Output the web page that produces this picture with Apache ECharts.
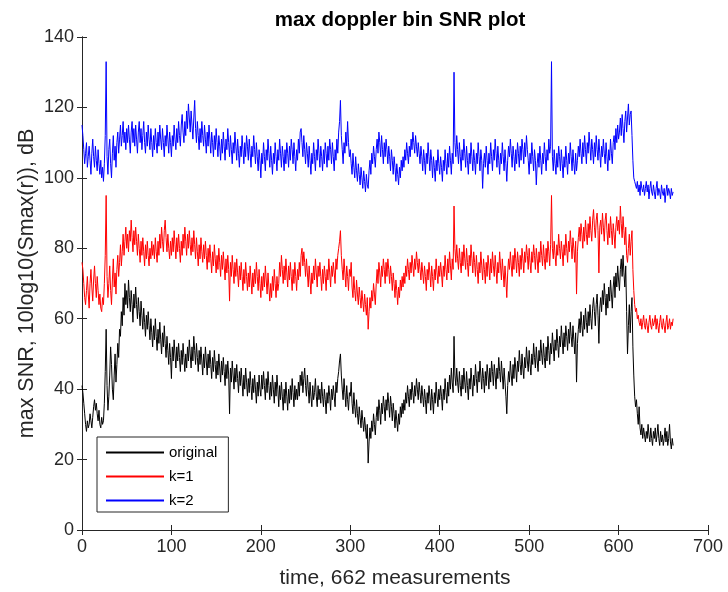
<!DOCTYPE html>
<html>
<head>
<meta charset="utf-8">
<title>max doppler bin SNR plot</title>
<script src="https://cdn.jsdelivr.net/npm/echarts@6/dist/echarts.min.js"></script>
<style>
  html, body { margin: 0; padding: 0; background: #fff; }
  #chart { width: 728px; height: 592px; }
</style>
</head>
<body>
<div id="chart"></div>
<script>
// Max SNR per measurement (dB), one value per measurement index 0..661
const original = [
41,39,36,33,30,28,31,29,30,33,31,29,32,35,37,34,36,33,31,34,
30,29,32,30,31,36,45,57,41,34,38,44,52,47,40,37,44,50,42,47,
53,49,57,55,62,58,66,61,70,64,68,63,71,66,62,68,64,59,67,63,
69,64,60,66,62,58,65,61,57,63,59,55,61,57,62,58,54,60,56,52,
58,54,60,55,51,57,53,59,54,50,56,52,58,53,49,55,51,47,53,49,
43,52,48,54,50,46,52,48,53,49,45,51,47,53,49,45,50,46,52,48,
54,50,46,52,48,55,51,47,53,49,45,51,47,52,48,44,50,46,52,48,
44,50,46,51,47,43,49,45,51,47,43,48,44,50,46,42,48,44,49,45,
41,47,43,48,44,33,46,42,48,44,40,46,42,47,43,39,45,41,46,42,
38,44,40,46,42,38,43,39,45,41,37,43,39,44,40,36,42,38,44,40,
38,44,40,45,41,37,43,39,45,41,37,42,38,44,40,36,42,38,44,40,
35,41,37,42,38,34,40,36,42,38,34,40,36,41,37,43,39,35,41,37,
40,37,42,38,44,41,45,39,43,46,41,38,44,40,36,42,38,35,41,37,
39,43,38,35,41,37,40,36,42,38,35,40,37,33,39,36,41,38,34,40,
37,41,38,35,42,39,43,45,48,50,44,40,37,43,39,35,41,37,34,39,
38,42,36,33,39,35,32,37,33,30,35,32,29,34,31,28,32,29,26,30,
19,25,29,26,31,28,33,30,27,32,35,31,37,34,30,36,33,38,35,31,
37,34,39,36,32,38,35,31,36,33,29,34,31,28,33,30,35,32,36,33,
37,34,39,36,41,38,35,40,37,42,39,36,41,38,43,40,37,42,39,36,
41,38,35,40,37,33,39,36,41,38,34,40,37,33,39,36,42,38,35,40,
37,41,38,34,40,37,43,39,36,42,38,44,40,46,42,39,55,44,41,46,
42,39,45,41,38,44,40,46,42,39,45,41,37,43,40,46,42,38,44,41,
47,43,39,45,42,48,44,40,46,43,39,45,41,47,44,40,46,42,48,45,
41,47,44,40,46,43,49,45,42,48,44,40,46,42,38,33,41,45,42,48,
44,41,47,43,49,46,42,48,45,51,47,44,50,46,43,49,46,52,48,45,
51,47,44,50,47,53,49,46,52,48,45,51,48,54,50,47,53,49,46,52,
48,55,51,47,53,50,56,52,48,54,51,57,53,49,55,52,58,54,50,56,
52,58,55,51,57,53,59,55,52,58,54,50,56,42,53,57,60,56,62,58,
55,61,57,63,59,56,62,58,64,60,57,63,66,62,58,64,67,61,53,63,
66,62,68,64,70,66,61,67,63,69,65,71,67,63,69,72,66,73,69,75,
71,68,74,77,72,78,73,69,75,62,50,58,64,56,62,66,52,44,38,35,
37,33,30,35,29,27,30,26,29,27,25,28,26,30,27,25,29,26,24,28,
26,29,25,27,30,26,24,28,25,27,24,26,29,25,28,24,26,30,25,23,26,24
];

const k1 = [
76,74,70,66,64,68,72,67,63,70,74,69,65,71,75,70,66,72,68,64,
67,63,62,66,64,70,78,95,72,66,70,75,68,64,71,77,69,73,67,74,
78,72,76,81,75,79,84,78,82,86,80,84,79,85,82,88,83,79,85,81,
86,82,78,84,80,76,82,78,83,79,75,81,77,82,78,75,80,77,82,78,
81,77,83,79,76,82,78,84,80,86,82,79,85,88,83,79,84,80,77,82,
78,83,79,85,81,77,83,79,84,80,76,82,78,84,80,86,82,78,84,80,
85,81,78,83,79,85,81,77,83,79,75,81,77,83,79,76,81,77,82,78,
74,80,76,81,77,73,79,75,81,77,73,78,74,80,76,72,78,74,79,75,
71,77,73,78,74,65,76,72,78,74,70,76,72,77,73,69,75,71,76,72,
68,74,70,76,72,68,73,69,75,71,67,73,69,74,70,76,72,68,74,70,
66,72,68,73,69,75,71,67,73,69,65,70,66,72,68,74,70,66,72,68,
70,76,72,78,74,70,75,71,77,73,69,75,71,76,72,68,74,70,76,72,
68,74,71,76,72,78,80,75,79,76,72,77,73,69,75,71,67,73,70,75,
71,77,73,69,75,72,76,72,68,74,70,75,72,68,74,71,77,73,69,75,
72,76,73,70,77,74,78,80,82,85,78,74,71,77,73,69,75,72,68,74,
72,76,69,66,72,68,65,71,67,64,69,66,63,68,65,62,67,64,61,66,
57,62,66,63,68,65,70,67,64,70,74,70,76,73,69,75,72,77,74,70,
76,72,77,74,70,75,72,68,73,70,66,71,68,64,69,66,71,68,72,69,
73,70,75,72,77,74,71,76,73,78,75,72,77,74,79,76,73,77,74,71,
76,73,70,75,72,68,74,71,76,73,69,75,72,68,74,71,77,73,70,75,
72,76,73,69,75,72,78,74,71,77,73,79,75,71,77,74,92,80,76,81,
77,74,80,76,73,79,75,81,77,74,80,76,72,78,75,81,77,73,79,76,
72,78,74,70,76,73,79,75,71,77,74,70,76,72,78,75,71,77,73,79,
75,72,78,74,70,76,73,79,75,71,77,73,69,75,71,66,73,77,74,79,
75,72,78,74,80,77,73,79,76,72,78,74,80,77,73,79,76,81,78,74,
80,76,73,79,76,81,78,74,80,77,73,79,76,82,78,75,81,77,74,80,
76,82,79,75,81,95,80,77,82,78,75,81,78,84,80,77,82,79,75,81,
78,84,80,76,82,79,85,81,77,83,80,76,82,67,79,83,86,82,87,84,
80,86,82,88,84,81,87,83,89,85,82,88,91,86,83,88,90,85,73,86,
88,84,90,86,82,88,90,85,81,87,83,89,85,81,87,84,80,86,89,85,
88,84,92,87,83,89,85,81,86,78,76,80,84,78,82,85,74,68,64,62,
63,60,61,59,58,60,57,59,61,58,57,60,58,56,59,61,58,57,60,58,
59,61,57,60,58,56,59,61,58,57,60,58,56,59,61,57,58,60,57,59,58,60
];

const k2 = [
115,112,108,104,107,110,103,106,109,105,101,107,111,106,103,109,105,102,108,104,
101,105,100,103,99,104,112,133,106,101,108,111,104,100,107,112,105,109,103,110,
113,107,111,115,109,112,116,110,113,108,114,110,115,111,107,113,116,110,114,109,
115,111,107,113,116,110,114,108,112,116,110,107,113,109,115,111,108,114,110,106,
112,108,114,110,107,113,109,115,111,108,114,110,106,112,109,115,111,107,113,110,
106,112,109,115,111,108,114,110,116,112,109,115,118,113,110,116,112,119,114,121,
117,113,119,115,111,117,122,114,110,116,112,108,114,110,116,112,109,115,111,107,
113,109,115,111,107,113,110,106,112,108,114,110,106,112,109,105,111,107,113,109,
105,111,108,114,110,106,112,108,104,110,107,113,109,105,111,107,103,109,106,112,
108,104,110,106,112,109,105,111,107,103,109,106,112,108,104,110,106,102,108,105,
100,107,104,110,106,102,108,105,111,107,103,109,105,101,107,104,110,106,102,108,
105,111,107,103,109,106,102,108,104,110,107,103,109,105,111,108,104,110,106,102,
108,105,111,107,113,114,110,106,112,108,104,110,107,103,109,105,101,107,104,110,
106,102,108,105,111,107,103,109,106,102,108,104,110,107,103,109,105,111,108,104,
110,106,102,108,105,111,107,113,116,122,112,108,104,110,107,113,109,116,110,106,
108,104,101,107,103,100,106,102,99,104,101,98,103,100,97,102,99,96,101,98,
97,102,105,101,107,104,109,106,103,108,111,107,113,110,106,112,108,104,110,106,
111,108,104,109,106,102,108,105,101,106,103,99,104,101,98,103,100,105,102,106,
103,108,105,110,107,104,109,106,111,108,113,110,107,112,109,106,110,107,104,109,
106,102,108,105,101,107,104,110,106,102,108,105,100,106,103,99,105,102,108,104,
101,106,103,99,105,102,108,104,101,107,103,109,105,101,107,104,130,110,106,112,
108,104,110,106,102,108,105,111,107,103,109,105,101,107,104,110,106,102,108,105,
101,107,104,110,106,102,108,105,97,104,107,103,109,105,101,107,104,110,106,102,
108,105,111,107,103,109,105,101,107,104,110,106,102,108,104,99,105,109,106,111,
107,103,109,106,102,108,104,110,107,103,109,105,111,108,104,110,106,112,108,105,
101,107,104,110,106,102,108,105,98,104,107,103,109,105,101,107,104,110,106,102,
108,105,111,107,109,133,106,102,108,104,101,107,103,109,106,102,108,104,100,106,
103,109,105,101,107,104,110,106,102,108,104,101,107,102,105,109,106,111,107,104,
110,106,112,108,104,110,107,113,109,105,111,108,104,110,106,112,108,105,111,107,
103,109,106,111,107,104,110,106,102,108,105,111,107,104,110,112,108,114,110,115,
111,113,117,112,118,114,110,116,119,113,117,121,115,118,119,112,105,100,99,98,
97,99,96,98,95,99,97,96,98,95,97,99,96,98,94,97,99,96,95,98,
96,94,97,99,95,97,96,94,98,96,95,97,93,96,98,95,97,96,94,97,95,96
];

const seriesNames = ['original', 'k=1', 'k=2'];
const seriesColors = ['#000000', '#ff0000', '#0000ff'];
const xTicks = { min: 0, max: 700, interval: 100 };
const yTicks = { min: 0, max: 140, interval: 20 };

const axisColor = '#262626';
const fontFamily = '"Liberation Sans", Arial, Helvetica, sans-serif';

function toPoints(values) {
  return values.map((v, i) => [i, v]);
}

const chart = echarts.init(document.getElementById('chart'), null, { renderer: 'canvas' });

const tickStyle = { inside: true, length: 5, lineStyle: { color: axisColor, width: 1 } };
const lineStyle = { lineStyle: { color: axisColor, width: 1 } };

chart.setOption({
  animation: false,
  backgroundColor: '#ffffff',
  textStyle: { fontFamily: fontFamily },
  title: {
    text: 'max doppler bin SNR plot',
    left: 395,
    textAlign: 'center',
    top: 5,
    textStyle: { fontSize: 20.5, fontWeight: 'bold', color: '#000', fontFamily: fontFamily }
  },
  // fixed plot box; axis names sit outside it without shrinking the grid
  grid: { left: 82, right: 20, top: 37, bottom: 62, containLabel: false, outerBoundsMode: 'none' },
  legend: {
    orient: 'vertical',
    left: 97,
    top: 437,
    itemWidth: 58,
    itemHeight: 14,
    itemGap: 9,
    padding: [8, 11, 4, 8],
    borderColor: axisColor,
    borderWidth: 1,
    backgroundColor: '#ffffff',
    data: seriesNames,
    // only the line sample is shown for each entry, no marker
    itemStyle: { opacity: 0 },
    textStyle: { fontSize: 15, color: '#000', fontFamily: fontFamily }
  },
  xAxis: [
    {
      type: 'value', position: 'bottom',
      min: xTicks.min, max: xTicks.max, interval: xTicks.interval,
      name: 'time, 662 measurements', nameLocation: 'middle', nameGap: 38,
      nameMoveOverlap: false,
      nameTextStyle: { fontSize: 21, color: axisColor, fontFamily: fontFamily },
      axisLine: lineStyle, axisTick: tickStyle, splitLine: { show: false },
      axisLabel: { fontSize: 18, color: axisColor, margin: 8, fontFamily: fontFamily }
    },
    {
      type: 'value', position: 'top',
      min: xTicks.min, max: xTicks.max, interval: xTicks.interval,
      axisLine: lineStyle, axisTick: tickStyle, splitLine: { show: false },
      axisLabel: { show: false }
    }
  ],
  yAxis: [
    {
      type: 'value', position: 'left',
      min: yTicks.min, max: yTicks.max, interval: yTicks.interval,
      name: 'max SNR, 10log10(Smax(r)), dB', nameLocation: 'middle', nameGap: 44,
      nameRotate: 90,
      nameMoveOverlap: false,
      nameTextStyle: { fontSize: 21.5, color: axisColor, fontFamily: fontFamily },
      axisLine: lineStyle, axisTick: tickStyle, splitLine: { show: false },
      axisLabel: { fontSize: 18, color: axisColor, margin: 8, fontFamily: fontFamily }
    },
    {
      type: 'value', position: 'right',
      min: yTicks.min, max: yTicks.max, interval: yTicks.interval,
      axisLine: lineStyle, axisTick: tickStyle, splitLine: { show: false },
      axisLabel: { show: false }
    }
  ],
  series: [original, k1, k2].map((values, idx) => ({
    name: seriesNames[idx],
    type: 'line',
    xAxisIndex: 0,
    yAxisIndex: 0,
    data: toPoints(values),
    symbol: 'none',
    showSymbol: false,
    sampling: null,
    lineStyle: { color: seriesColors[idx], width: 1 },
    itemStyle: { color: seriesColors[idx] },
    emphasis: { disabled: true }
  }))
});
</script>
</body>
</html>
